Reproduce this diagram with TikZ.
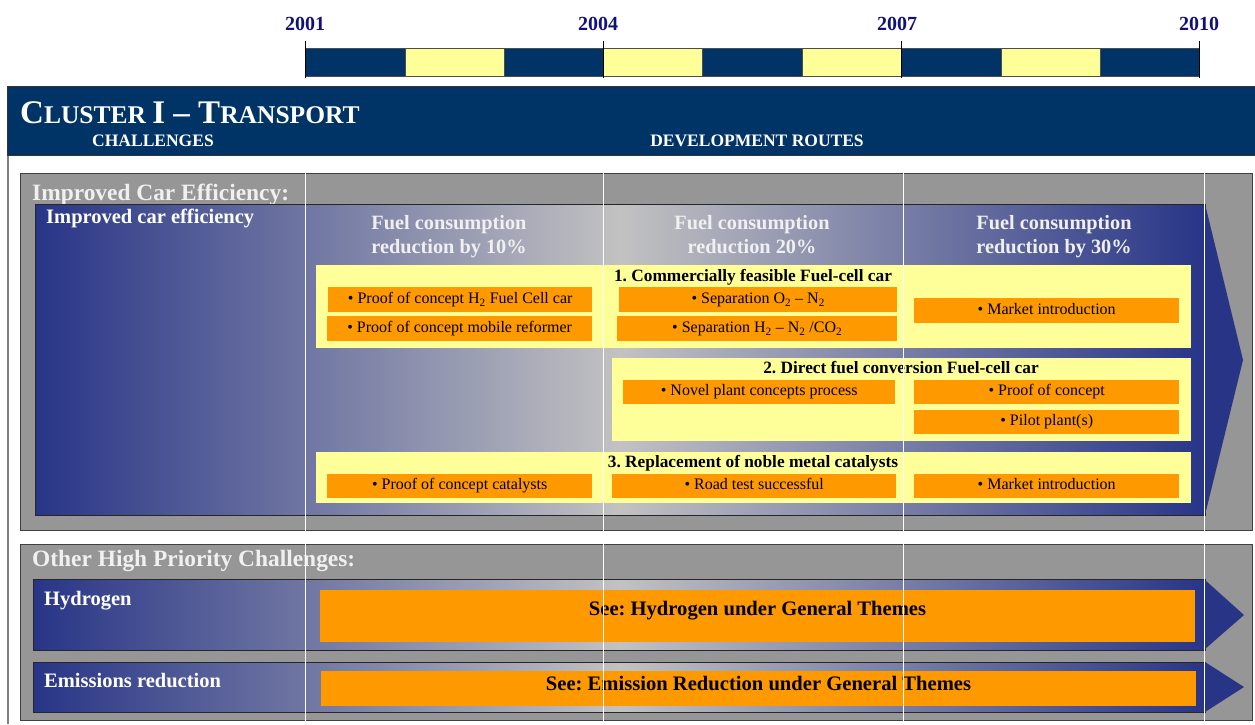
\documentclass[tikz,border=0pt]{standalone}
\usepackage{fontspec}
\setmainfont{Liberation Serif}
\usepackage{tikz}
\usetikzlibrary{positioning}
\usepackage{xcolor}
\definecolor{Marine}{RGB}{0,51,102}
\definecolor{Citron}{RGB}{255,255,153}
\definecolor{Mandarine}{RGB}{255,153,0}
\definecolor{Ardoise}{RGB}{150,150,150}
\definecolor{Indigo}{RGB}{40,53,135}
\definecolor{Brume}{RGB}{194,194,194}
\definecolor{Annee}{RGB}{17,17,120}
\newcommand{\capsize}{\fontsize{33}{36}\selectfont}
\newcommand{\scsize}{\fontsize{25.5}{28}\selectfont}
\frenchspacing

\begin{document}
\begin{tikzpicture}[x=1pt,y=-1pt,
  yearlabel/.style={font=\fontsize{20}{24}\selectfont\bfseries,text=Annee,anchor=base,inner sep=0pt},
  bandtext/.style={font=\fontsize{17.5}{21}\selectfont\bfseries,text=white,anchor=base west,inner sep=0pt},
  sectiontitle/.style={font=\fontsize{23.4}{28}\selectfont\bfseries,text=white!94!black,anchor=base west,inner sep=0pt},
  rowtitle/.style={font=\fontsize{20.5}{24}\selectfont\bfseries,text=white,anchor=base west,inner sep=0pt},
  colhead/.style={font=\fontsize{20.3}{24}\selectfont\bfseries,text=white!94!black,align=center,anchor=north,inner sep=0pt},
  grayframe/.style={fill=Ardoise,draw=black!75,line width=1pt},
  bluebar/.style={left color=Indigo,right color=Indigo,middle color=Brume,draw=black!85,line width=0.8pt},
  yellowbox/.style={fill=Citron,anchor=north west,inner sep=0pt},
  orangebox/.style={fill=Mandarine,anchor=north west,inner sep=0pt,font=\fontsize{16}{19}\selectfont,text height=11pt,text depth=3.5pt},
  boxtitle/.style={font=\fontsize{17.3}{20}\selectfont\bfseries,anchor=base,inner sep=0pt},
  seetext/.style={font=\fontsize{20.6}{24}\selectfont\bfseries,anchor=base,inner sep=0pt},
  yearbar/.style={draw=black!70,line width=0.6pt},
  gridline/.style={white,line width=0.8pt}]
\useasboundingbox (0,0) rectangle (1255,724);
%
% time line
%
\draw[yearbar,fill=Marine] (305,48) rectangle (405,76);
\draw[yearbar,fill=Citron] (405,48) rectangle (504,76);
\draw[yearbar,fill=Marine] (504,48) rectangle (603,76);
\draw[yearbar,fill=Citron] (603,48) rectangle (702,76);
\draw[yearbar,fill=Marine] (702,48) rectangle (802,76);
\draw[yearbar,fill=Citron] (802,48) rectangle (901,76);
\draw[yearbar,fill=Marine] (901,48) rectangle (1001,76);
\draw[yearbar,fill=Citron] (1001,48) rectangle (1100,76);
\draw[yearbar,fill=Marine] (1100,48) rectangle (1199,76);
\draw[line width=0.8pt] (305,41) -- (305,78);
\draw[line width=0.8pt] (603,41) -- (603,78);
\draw[line width=0.8pt] (901,41) -- (901,78);
\draw[line width=0.8pt] (1199,41) -- (1199,78);
\node[yearlabel] (y2001) at (305,30) {2001};
\node[yearlabel] (y2004) at (598,30) {2004};
\node[yearlabel] (y2007) at (897,30) {2007};
\node[yearlabel] (y2010) at (1199,30) {2010};
%
% header
%
\draw[gray,line width=1.6pt] (8,150) -- (8,724);
\draw[fill=Marine,draw=black!80,line width=1pt] (7.5,86) rectangle (1258,155);
\node[anchor=base west,text=white,inner sep=0pt] (cluster) at (20,123)
  {\bfseries\capsize C\scsize LUSTER \capsize I -- T\scsize RANSPORT};
\node[bandtext] (challenges) at (92,146.5) {CHALLENGES};
\node[bandtext,anchor=base] (routes) at (757,146.5) {DEVELOPMENT ROUTES};
%
% improved car efficiency
%
\draw[grayframe] (20,173) rectangle (1252,530);
\node[sectiontitle] (cartitle) at (32,200) {Improved Car Efficiency:};
\shadedraw[bluebar] (35,204) rectangle (1205,515);
\fill[Indigo] (1205,204) -- (1243,360) -- (1205,515) -- cycle;
\node[rowtitle] (carrow) at (46,223) {Improved car efficiency};
\node[colhead] (cons10) at (449,215.5) {Fuel consumption\\reduction by 10\%};
\node[colhead] (cons20) at (752,215.5) {Fuel consumption\\reduction 20\%};
\node[colhead] (cons30) at (1054,215.5) {Fuel consumption\\reduction by 30\%};
%
\node[yellowbox,minimum width=875,minimum height=83] (route1) at (316,265) {};
\node[boxtitle] (route1t) at (753,281) {1. Commercially feasible Fuel-cell car};
\node[orangebox,minimum width=264,minimum height=25] (h2car) at (328,287) {\textbullet{} Proof of concept H\textsubscript{2} Fuel Cell car};
\node[orangebox,minimum width=265,minimum height=25] (reformer) at (327,316) {\textbullet{} Proof of concept mobile reformer};
\node[orangebox,minimum width=278,minimum height=25] (sepon) at (619,287) {\textbullet{} Separation O\textsubscript{2} -- N\textsubscript{2}};
\node[orangebox,minimum width=280,minimum height=25] (sephn) at (617,316) {\textbullet{} Separation H\textsubscript{2} -- N\textsubscript{2} /CO\textsubscript{2}};
\node[orangebox,minimum width=265,minimum height=25] (market1) at (914,298) {\textbullet{} Market introduction};
%
\node[yellowbox,minimum width=579,minimum height=83] (route2) at (612,358) {};
\node[boxtitle] (route2t) at (901,373) {2. Direct fuel conversion Fuel-cell car};
\node[orangebox,minimum width=272,minimum height=24] (novel) at (623,380) {\textbullet{} Novel plant concepts process};
\node[orangebox,minimum width=265,minimum height=24] (proof2) at (914,380) {\textbullet{} Proof of concept};
\node[orangebox,minimum width=265,minimum height=24] (pilot) at (914,410) {\textbullet{} Pilot plant(s)};
%
\node[yellowbox,minimum width=875,minimum height=51] (route3) at (316,452) {};
\node[boxtitle] (route3t) at (753,467) {3. Replacement of noble metal catalysts};
\node[orangebox,minimum width=265,minimum height=24] (catal) at (327,474) {\textbullet{} Proof of concept catalysts};
\node[orangebox,minimum width=284,minimum height=24] (road) at (612,474) {\textbullet{} Road test successful};
\node[orangebox,minimum width=265,minimum height=24] (market3) at (914,474) {\textbullet{} Market introduction};
%
% other high priority challenges
%
\draw[grayframe] (20,544) rectangle (1252,720);
\node[sectiontitle] (othertitle) at (32,566) {Other High Priority Challenges:};
\shadedraw[bluebar] (33.5,579) rectangle (1205,650);
\fill[Indigo] (1205,580) -- (1244,615) -- (1205,649) -- cycle;
\node[rowtitle] (hydrow) at (44,605) {Hydrogen};
\node[yellowbox,fill=Mandarine,minimum width=875,minimum height=52] (hydbox) at (320,590) {};
\node[seetext] (hydsee) at (757.5,615) {See: Hydrogen under General Themes};
%
\shadedraw[bluebar] (33.5,662) rectangle (1205,712);
\fill[Indigo] (1205,662) -- (1244,687) -- (1205,712) -- cycle;
\node[rowtitle] (emirow) at (44,687) {Emissions reduction};
\node[yellowbox,fill=Mandarine,minimum width=875,minimum height=35] (emibox) at (321,671) {};
\node[seetext] (emisee) at (758.5,690) {See: Emission Reduction under General Themes};
%
% year lines
%
\draw[gridline] (305,173) -- (305,724);
\draw[gridline] (603.5,173) -- (603.5,724);
\draw[gridline] (903,173) -- (903,724);
\draw[gridline] (1204.5,173) -- (1204.5,724);
%
\end{tikzpicture}
\end{document}
